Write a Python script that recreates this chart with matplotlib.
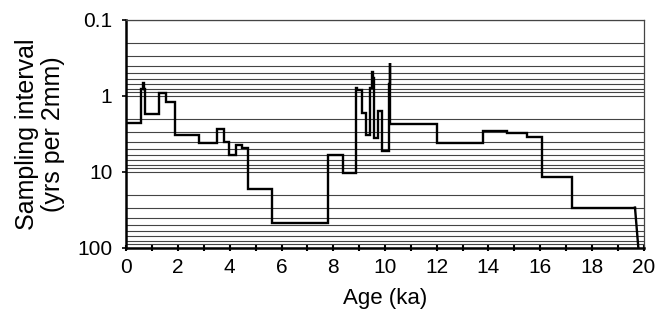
import matplotlib
matplotlib.use("Agg")
import matplotlib.pyplot as plt
from matplotlib.ticker import FixedLocator, LogLocator, NullFormatter
import numpy as np

plt.rcParams['font.family'] = ['Liberation Sans', 'DejaVu Sans']

# Step data: age (ka) of each segment start, and sampling interval (yrs per 2mm)
age = [0.0, 0.55, 0.66, 0.70, 0.72, 1.27, 1.55, 1.89, 2.81, 3.49, 3.77, 3.96,
       4.23, 4.46, 4.71, 5.64, 7.81, 8.39, 8.89, 8.93, 9.11, 9.28, 9.44, 9.49,
       9.53, 9.56, 9.72, 9.89, 10.15, 10.19, 10.21, 12.0, 13.8, 14.71, 15.48,
       16.06, 17.25, 19.67]
interval = [2.3, 0.82, 0.67, 0.82, 1.74, 0.92, 1.21, 3.26, 4.1, 2.7, 4.0, 5.9,
            4.4, 4.8, 16.9, 47.3, 5.9, 10.4, 0.78, 0.83, 1.69, 3.26, 0.78, 0.48,
            0.58, 3.6, 1.6, 5.25, 0.69, 0.37, 2.33, 4.2, 2.86, 3.07, 3.43,
            11.5, 29.5, 29.5]
end_age = 19.8
end_interval = 100

xticks = [0, 2, 4, 6, 8, 10, 12, 14, 16, 18, 20]
yticks = [0.1, 1, 10, 100]
ytick_labels = ['0.1', '1', '10', '100']

fig = plt.figure(figsize=(6.65, 3.17), dpi=100)
ax = fig.add_axes([0.190, 0.218, 0.7777, 0.719])

ax.set_yscale('log')
ax.set_xlim(0, 20)
ax.set_ylim(100, 0.1)

# horizontal grid at every log tick
ax.yaxis.set_minor_locator(LogLocator(base=10, subs=np.arange(2, 10)))
ax.yaxis.set_minor_formatter(NullFormatter())
ax.grid(True, which='both', axis='y', color='#444444', lw=0.8)
ax.set_axisbelow(True)

ax.plot(age, interval, drawstyle='steps-post',
        color='black', lw=1.7, solid_joinstyle='miter')
ax.plot([age[-1], end_age], [interval[-1], end_interval], color='black', lw=1.7)

ax.set_xticks(xticks)
ax.xaxis.set_minor_locator(FixedLocator(np.arange(1, 20, 2)))
ax.set_yticks(yticks)
ax.set_yticklabels(ytick_labels)

ax.tick_params(axis='x', which='both', direction='inout', length=5, width=1.5,
               labelsize=15, pad=5)
ax.tick_params(axis='y', which='major', direction='out', length=3, width=1.2,
               labelsize=15, pad=7)
ax.tick_params(axis='y', which='minor', length=0)

for s in ['left', 'bottom']:
    ax.spines[s].set_linewidth(1.8)
    ax.spines[s].set_color('black')
for s in ['top', 'right']:
    ax.spines[s].set_linewidth(0.9)
    ax.spines[s].set_color('#444444')

ax.set_xlabel('Age (ka)', fontsize=16, labelpad=8)
ax.set_ylabel('Sampling interval\n(yrs per 2mm)', fontsize=18, labelpad=9,
              linespacing=1.1)

fig.savefig('out.png', dpi=100)
